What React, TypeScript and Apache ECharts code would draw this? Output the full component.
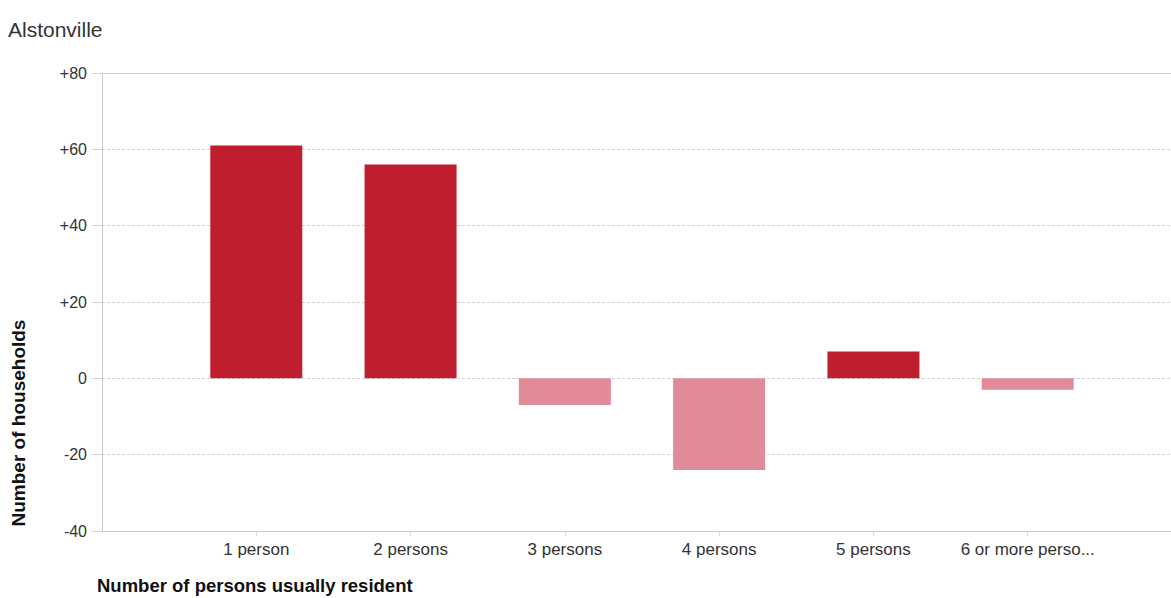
import React, { useEffect, useRef } from "react";
import * as echarts from "echarts";

const titleText = "Alstonville";
const categories = ["", "1 person", "2 persons", "3 persons", "4 persons", "5 persons", "6 or more perso...", ""];
const values: (number | null)[] = [null, 61, 56, -7, -24, 7, -3, null];
const yTicks = { min: -40, max: 80, interval: 20 };
const yAxisTitle = "Number of households";
const xAxisTitle = "Number of persons usually resident";

const POS = "#BF1E2E";
const NEG = "#E18A98";
const FONT = "'Liberation Sans', Arial, sans-serif";

export default function App() {
  const ref = useRef<HTMLDivElement>(null);
  useEffect(() => {
    if (!ref.current) return;
    const chart = echarts.init(ref.current, undefined, { renderer: "svg" });
    chart.setOption({
      animation: false,
      backgroundColor: "#ffffff",
      textStyle: { fontFamily: FONT },
      grid: { left: 102, top: 73, width: 1080, height: 458, containLabel: false },
      xAxis: {
        type: "category",
        data: categories,
        boundaryGap: false,
        axisLine: { show: true, onZero: false, lineStyle: { color: "#c8c8c8", width: 1 } },
        axisTick: {
          show: true,
          length: 5,
          interval: (i: number) => categories[i] !== "",
          lineStyle: { color: "#d8d8d8" },
        },
        axisLabel: {
          interval: 0,
          color: "#333333",
          fontSize: 17,
          fontFamily: FONT,
          margin: 10,
        },
        splitLine: { show: false },
      },
      yAxis: {
        type: "value",
        min: yTicks.min,
        max: yTicks.max,
        interval: yTicks.interval,
        axisLine: { show: true, lineStyle: { color: "#c8c8c8", width: 1 } },
        axisTick: { show: true, length: 10, lineStyle: { color: "#d0d0d0" } },
        axisLabel: {
          color: "#333333",
          fontSize: 16,
          fontFamily: FONT,
          margin: 15,
          formatter: (v: number) => (v > 0 ? "+" + v : String(v)),
        },
        splitLine: {
          show: true,
          lineStyle: { color: "#d0d0d0", type: [3, 2], width: 1 },
        },
      },
      series: [
        {
          type: "bar",
          barWidth: 92,
          data: values.map((v) =>
            v === null ? null : { value: v, itemStyle: { color: v >= 0 ? POS : NEG } }
          ),
          markLine: {
            silent: true,
            symbol: "none",
            label: { show: false },
            lineStyle: { color: "#d0d0d0", type: "solid", width: 1 },
            data: [{ yAxis: yTicks.max }],
          },
        },
      ],
      graphic: [
        {
          type: "text",
          left: 8,
          top: 19,
          style: { text: titleText, fontSize: 21, fontFamily: FONT, fill: "#333333" },
        },
        {
          type: "text",
          x: 18,
          y: 423,
          rotation: Math.PI / 2,
          style: {
            text: yAxisTitle,
            fontSize: 19,
            fontWeight: "bold",
            fontFamily: FONT,
            fill: "#111111",
            align: "center",
            verticalAlign: "middle",
          },
        },
        {
          type: "text",
          x: 97,
          y: 585,
          style: {
            text: xAxisTitle,
            fontSize: 18.5,
            fontWeight: "bold",
            fontFamily: FONT,
            fill: "#111111",
            align: "left",
            verticalAlign: "middle",
          },
        },
      ],
    });
    return () => chart.dispose();
  }, []);
  return (
    <div
      ref={ref}
      style={{ position: "fixed", left: 0, top: 0, width: 1200, height: 598 }}
    />
  );
}
